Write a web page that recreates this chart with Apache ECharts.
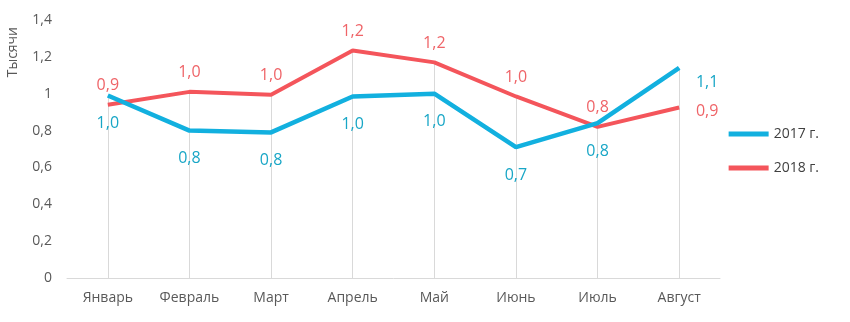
<!DOCTYPE html>
<html><head><meta charset="utf-8">
<script src="https://cdn.jsdelivr.net/npm/echarts@6/dist/echarts.min.js"></script>
<style>html,body{margin:0;padding:0;background:#fff}#c{width:850px;height:322px}</style>
</head><body><div id="c"></div>
<script>
const categories = ['Январь','Февраль','Март','Апрель','Май','Июнь','Июль','Август'];
const values2017 = [0.99, 0.80, 0.79, 0.985, 1.0, 0.71, 0.84, 1.14];
const values2018 = [0.94, 1.01, 0.995, 1.235, 1.17, 0.985, 0.82, 0.925];
const seriesNames = ['2017 г.', '2018 г.'];
const yTicks = {min: 0, max: 1.4, interval: 0.2};
const yTitle = 'Тысячи';

const fmt = v => v.toFixed(1).replace('.', ',');
const FONT = 'Open Sans';
const blue = '#12b0df', blueLbl = '#18a6c6';
const red = '#f4555b', redLbl = '#ef6468';

const dropLines = categories.map((c, i) => [
  {coord: [c, Math.max(values2017[i], values2018[i])]},
  {coord: [c, 0]}
]);

const chart = echarts.init(document.getElementById('c'));
chart.setOption({
  animation: false,
  textStyle: {fontFamily: FONT},
  grid: {left: 67, right: 130, top: 20, bottom: 44},
  graphic: [{
    type: 'text', left: 6, top: 27, rotation: Math.PI / 2,
    style: {text: yTitle, fill: '#595959', font: '14px "Open Sans"'}
  }],
  legend: {
    orient: 'vertical', right: 26, top: 122,
    itemWidth: 40, itemHeight: 5, itemGap: 20, icon: 'rect',
    textStyle: {fontFamily: FONT, fontSize: 14, color: '#404040'},
    data: seriesNames
  },
  xAxis: {
    type: 'category', data: categories, boundaryGap: true,
    axisLine: {lineStyle: {color: '#d9d9d9', width: 1}},
    axisTick: {show: false},
    axisLabel: {color: '#595959', fontSize: 14, margin: 13, fontFamily: FONT},
    splitLine: {show: false}
  },
  yAxis: {
    type: 'value', min: yTicks.min, max: yTicks.max, interval: yTicks.interval,
    axisLine: {show: false}, axisTick: {show: false}, splitLine: {show: false},
    axisLabel: {color: '#595959', fontSize: 14, margin: 15, fontFamily: FONT,
      formatter: v => (Math.round(v*10)/10 === 1 ? '1' : (v === 0 ? '0' : fmt(v)))}
  },
  series: [
    {
      name: seriesNames[0], type: 'line', data: values2017,
      symbol: 'circle', symbolSize: 0, showSymbol: true, z: 3,
      lineStyle: {color: blue, width: 4.5}, itemStyle: {color: blue},
      label: {show: true, position: 'bottom', distance: 20, color: blueLbl, fontSize: 16, fontFamily: FONT,
        formatter: p => fmt(p.value)},
      labelLayout: p => p.dataIndex === 7 ? {dx: 28, dy: -13} : {},
      markLine: {
        silent: true, symbol: 'none', label: {show: false},
        lineStyle: {color: '#d9d9d9', width: 1, type: 'solid'},
        data: dropLines, z: 1
      }
    },
    {
      name: seriesNames[1], type: 'line', data: values2018,
      symbol: 'circle', symbolSize: 0, showSymbol: true, z: 2,
      lineStyle: {color: red, width: 4}, itemStyle: {color: red},
      label: {show: true, position: 'top', distance: 11, color: redLbl, fontSize: 16, fontFamily: FONT,
        formatter: p => fmt(p.value)},
      labelLayout: p => p.dataIndex === 7 ? {dx: 28, dy: 23} : {}
    }
  ]
});
</script></body></html>
